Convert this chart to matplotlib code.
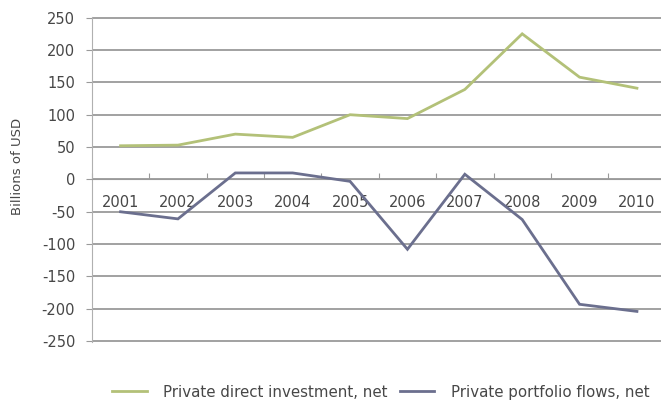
import matplotlib
matplotlib.use("Agg")
import matplotlib.pyplot as plt
import numpy as np

years = ["2001", "2002", "2003", "2004", "2005", "2006", "2007", "2008", "2009", "2010"]
direct_investment = [52, 53, 70, 65, 100, 94, 139, 225, 158, 141]
portfolio_flows = [-50, -61, 10, 10, -3, -108, 8, -62, -193, -204]
y_ticks = [250, 200, 150, 100, 50, 0, -50, -100, -150, -200, -250]

green = "#b3c178"
blue = "#6b6f8e"
grid = "#9a9a9a"
text_color = "#474747"

fig = plt.figure(figsize=(6.61, 4.05), dpi=100)
ax = fig.add_axes([0.139, 0.156, 0.868, 0.802])

x = np.arange(len(years))
ax.plot(x, direct_investment, color=green, lw=2.0, solid_joinstyle="miter",
        label="Private direct investment, net", zorder=3)
ax.plot(x, portfolio_flows, color=blue, lw=2.0, solid_joinstyle="miter",
        label="Private portfolio flows, net", zorder=3)

ax.set_xlim(-0.5, len(years) - 0.5)
ax.set_ylim(-251, 251)
ax.set_yticks(y_ticks)
ax.set_yticklabels([str(v) for v in y_ticks], fontsize=10.5, color=text_color)
ax.yaxis.grid(True, color=grid, lw=1.3)
ax.set_axisbelow(True)

# category axis crossing at zero
ax.spines["bottom"].set_position(("data", 0))
ax.spines["bottom"].set_color(grid)
ax.spines["left"].set_color("#b0b0b0")
ax.spines["top"].set_visible(False)
ax.spines["right"].set_visible(False)
ax.set_xticks(np.arange(len(years) + 1) - 0.5, minor=False)
ax.set_xticklabels([""] * (len(years) + 1))
ax.set_xticks(x, minor=True)
ax.set_xticklabels(years, minor=True, fontsize=10.5, color=text_color)
ax.tick_params(axis="x", which="major", length=4, direction="in", color=grid)
ax.tick_params(axis="x", which="minor", length=0, pad=11)
ax.tick_params(axis="y", length=4, color=grid, pad=8)

ax.set_ylabel("Billions of USD", fontsize=9.5, color=text_color, labelpad=9)
ax.yaxis.set_label_coords(-0.118, 0.54)

fig.legend(loc="center", bbox_to_anchor=(0.576, 0.032), ncol=2, frameon=False,
           fontsize=10.8, handlelength=2.3, handletextpad=1.1, columnspacing=0.8,
           labelcolor=text_color)

fig.savefig("out.png", dpi=100)
